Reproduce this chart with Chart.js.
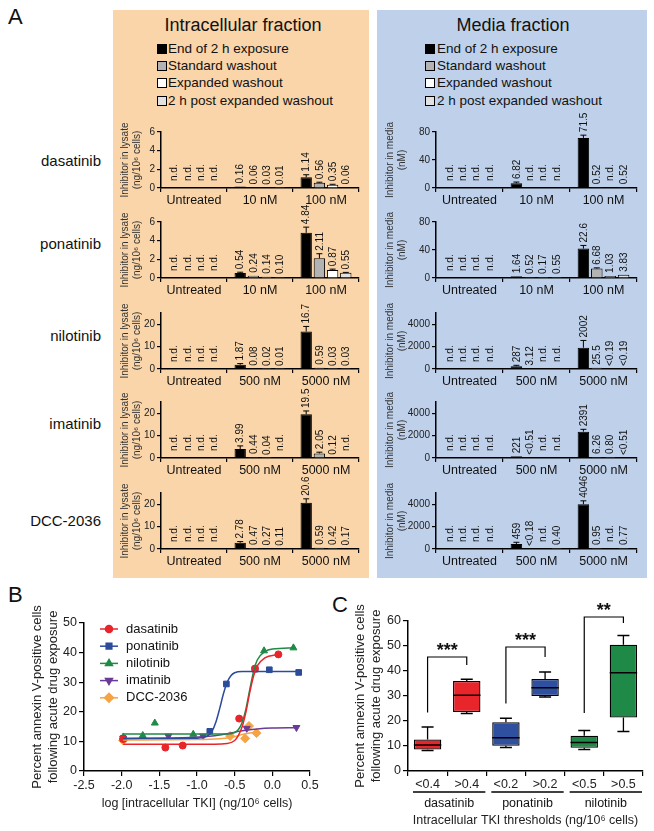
<!DOCTYPE html>
<html>
<head>
<meta charset="utf-8">
<script src="https://cdn.jsdelivr.net/npm/chart.js@4/dist/chart.umd.min.js"></script>
<style>
  body { margin: 0; background: #fff; font-family: "Liberation Sans", Arial, sans-serif; }
  #page { position: relative; width: 654px; height: 831px; overflow: hidden; }
  .txt { position: absolute; white-space: nowrap; color: #111; }
  canvas { position: absolute; }
  .panel { position: absolute; }
  .sq { position: absolute; width: 8px; height: 8px; border: 1.5px solid #000; }
</style>
</head>
<body>
<div id="page">
  <div class="panel" style="left:113px;top:10px;width:256px;height:568px;background:#f9d5a9"></div>
  <div class="panel" style="left:377px;top:10px;width:270px;height:568px;background:#bfd1ea"></div>
</div>
<script>
// ===== DATA =====
const drugNames = ["dasatinib", "ponatinib", "nilotinib", "imatinib", "DCC-2036"];
const seriesNames = ["End of 2 h exposure", "Standard washout", "Expanded washout", "2 h post expanded washout"];
const seriesColors = ["#000000", "#b3b3b3", "#ffffff", "#e2e2e2"];
const dosesLow = ["Untreated", "10 nM", "100 nM"];
const dosesHigh = ["Untreated", "500 nM", "5000 nM"];

// intracellular (ng/10^6 cells): rows = series, cols = dose
const lysateDasatinib = [[0, 0.16, 1.14], [0, 0.06, 0.56], [0, 0.03, 0.35], [0, 0.01, 0.06]];
const lysateDasatinibText = [["n.d.", "0.16", "1.14"], ["n.d.", "0.06", "0.56"], ["n.d.", "0.03", "0.35"], ["n.d.", "0.01", "0.06"]];
const lysateDasatinibErr = [[null, null, 1.42], [null, null, 0.62], [null, null, 0.4], [null, null, null]];

const lysatePonatinib = [[0, 0.54, 4.84], [0, 0.24, 2.11], [0, 0.14, 0.87], [0, 0.10, 0.55]];
const lysatePonatinibText = [["n.d.", "0.54", "4.84"], ["n.d.", "0.24", "2.11"], ["n.d.", "0.14", "0.87"], ["n.d.", "0.10", "0.55"]];
const lysatePonatinibErr = [[null, 0.62, 5.45], [null, null, 2.6], [null, null, 0.95], [null, null, 0.6]];

const lysateNilotinib = [[0, 1.87, 16.7], [0, 0.08, 0.59], [0, 0.02, 0.03], [0, 0.01, 0.03]];
const lysateNilotinibText = [["n.d.", "1.87", "16.7"], ["n.d.", "0.08", "0.59"], ["n.d.", "0.02", "0.03"], ["n.d.", "0.01", "0.03"]];
const lysateNilotinibErr = [[null, 2.4, 19.0], [null, null, null], [null, null, null], [null, null, null]];

const lysateImatinib = [[0, 3.99, 19.5], [0, 0.44, 2.05], [0, 0.04, 0.12], [0, 0, 0]];
const lysateImatinibText = [["n.d.", "3.99", "19.5"], ["n.d.", "0.44", "2.05"], ["n.d.", "0.04", "0.12"], ["n.d.", "n.d.", "n.d."]];
const lysateImatinibErr = [[null, 5.4, 21.0], [null, null, 2.6], [null, null, null], [null, null, null]];

const lysateDcc = [[0, 2.78, 20.6], [0, 0.47, 0.59], [0, 0.27, 0.42], [0, 0.11, 0.17]];
const lysateDccText = [["n.d.", "2.78", "20.6"], ["n.d.", "0.47", "0.59"], ["n.d.", "0.27", "0.42"], ["n.d.", "0.11", "0.17"]];
const lysateDccErr = [[null, 3.3, 22.4], [null, null, null], [null, null, null], [null, null, null]];

// media (nM)
const mediaDasatinib = [[0, 6.82, 71.5], [0, 0, 1.2], [0, 0, 0], [0, 0, 1.2]];
const mediaDasatinibText = [["n.d.", "6.82", "71.5"], ["n.d.", "n.d.", "0.52"], ["n.d.", "n.d.", "n.d."], ["n.d.", "n.d.", "0.52"]];
const mediaDasatinibErr = [[null, 8.5, 75.5], [null, null, null], [null, null, null], [null, null, null]];

const mediaPonatinib = [[0, 2.5, 42], [0, 1.5, 13.5], [0, 1.5, 3.0], [0, 1.5, 4.5]];
const mediaPonatinibText = [["n.d.", "1.64", "22.6"], ["n.d.", "0.52", "6.68"], ["n.d.", "0.17", "1.03"], ["n.d.", "0.55", "3.83"]];
const mediaPonatinibErr = [[null, null, 46.5], [null, null, 14.5], [null, null, null], [null, null, null]];

const mediaNilotinib = [[0, 250, 1900], [0, 40, 110], [0, 0, 0], [0, 0, 0]];
const mediaNilotinibText = [["n.d.", "287", "2002"], ["n.d.", "3.12", "25.5"], ["n.d.", "n.d.", "<0.19"], ["n.d.", "n.d.", "<0.19"]];
const mediaNilotinibErr = [[null, 330, 2550], [null, null, null], [null, null, null], [null, null, null]];

const mediaImatinib = [[0, 150, 2350], [0, 30, 80], [0, 0, 80], [0, 0, 0]];
const mediaImatinibText = [["n.d.", "221", "2391"], ["n.d.", "<0.51", "6.26"], ["n.d.", "n.d.", "0.80"], ["n.d.", "n.d.", "<0.51"]];
const mediaImatinibErr = [[null, null, 2560], [null, null, null], [null, null, null], [null, null, null]];

const mediaDcc = [[0, 450, 4000], [0, 0, 80], [0, 0, 0], [0, 80, 80]];
const mediaDccText = [["n.d.", "459", "4046"], ["n.d.", "<0.18", "0.95"], ["n.d.", "n.d.", "n.d."], ["n.d.", "0.40", "0.77"]];
const mediaDccErr = [[null, 600, 4300], [null, null, null], [null, null, null], [null, null, null]];

// panel B: points
const dasX = [-1.98, -1.42, -1.19, -0.44, -0.23, 0.08];
const dasY = [10.8, 7.9, 8.6, 17.7, 34.6, 39.4];
const ponX = [-1.98, -0.83, -0.61, -0.23, -0.04, 0.35];
const ponY = [11.0, 13.4, 29.4, 34.4, 34.2, 33.3];
const nilX = [-1.98, -1.72, -1.56, -1.05, -0.11, 0.28];
const nilY = [11.5, 12.0, 16.2, 12.4, 40.6, 41.6];
const imaX = [-1.98, -1.38, -0.92, -0.34, 0.32];
const imaY = [11.0, 11.8, 11.8, 14.4, 14.7];
const dccX = [-1.98, -0.56, -0.36, -0.31, -0.21];
const dccY = [10.3, 11.8, 11.0, 15.2, 12.8];
// panel B: fitted curves
const dasCurveX = [-1.98, -1.0, -0.6, -0.5, -0.45, -0.4, -0.35, -0.3, -0.25, -0.2, -0.1, 0.08];
const dasCurveY = [9.0, 9.0, 9.3, 10.3, 12.0, 15.0, 20.0, 26.5, 32.0, 35.5, 38.2, 39.4];
const ponCurveX = [-1.98, -1.0, -0.85, -0.8, -0.75, -0.7, -0.65, -0.6, -0.55, -0.5, -0.4, 0.35];
const ponCurveY = [11.0, 11.1, 12.0, 13.5, 16.5, 21.0, 26.0, 30.0, 32.2, 33.2, 33.6, 33.6];
const nilCurveX = [-1.98, -0.6, -0.5, -0.45, -0.4, -0.35, -0.3, -0.25, -0.2, -0.1, 0.0, 0.3];
const nilCurveY = [12.5, 12.5, 13.0, 14.0, 16.5, 21.0, 27.5, 33.5, 37.5, 40.3, 41.2, 41.6];
const imaCurveX = [-1.98, -1.2, -0.8, -0.6, -0.4, -0.2, 0.0, 0.32];
const imaCurveY = [11.0, 11.2, 11.8, 12.6, 13.6, 14.2, 14.5, 14.6];
const dccCurveX = [-1.98, -1.0, -0.7, -0.5, -0.4, -0.3, -0.2];
const dccCurveY = [10.5, 10.6, 10.9, 11.6, 12.3, 12.8, 13.1];

// panel C: box plots
const boxCats = ["<0.4", ">0.4", "<0.2", ">0.2", "<0.5", ">0.5"];
const boxGroups = ["dasatinib", "ponatinib", "nilotinib"];
const boxMin = [8.2, 23.0, 9.4, 29.6, 8.6, 15.8];
const boxQ1 = [8.6, 23.6, 10.1, 30.0, 9.3, 21.4];
const boxMed = [10.4, 30.3, 13.3, 33.3, 11.4, 39.3];
const boxQ3 = [12.6, 36.0, 19.5, 36.8, 14.1, 50.5];
const boxMax = [17.6, 36.7, 21.1, 39.6, 16.2, 54.2];
const sigLabels = ["***", "***", "**"];
const sigTop = [45.6, 49.6, 61.6];
const sigLeftFoot = [23.4, 27.0, 23.2];
const sigRightFoot = [42.4, 45.6, 59.2];

// ===== HELPERS =====
Chart.defaults.font.family = '"Liberation Sans", Arial, sans-serif';
Chart.defaults.color = "#111";
const page = document.getElementById("page");

function addText(txt, x, y, size, align) {
  const d = document.createElement("div");
  d.className = "txt";
  d.textContent = txt;
  d.style.left = x + "px";
  d.style.top = y + "px";
  d.style.fontSize = size + "px";
  d.style.lineHeight = "1";
  const tx = align === "right" ? "-100%" : align === "left" ? "0" : "-50%";
  d.style.transform = "translate(" + tx + ",-50%)";
  page.appendChild(d);
}

function addCanvas(left, top, w, h) {
  const cv = document.createElement("canvas");
  cv.width = w; cv.height = h;
  cv.style.left = left + "px"; cv.style.top = top + "px";
  cv.style.width = w + "px"; cv.style.height = h + "px";
  page.appendChild(cv);
  return cv;
}

// value labels + error bars on the small bar charts
function barLabels(texts, errs) {
  return {
    id: "barLabels",
    afterDatasetsDraw(chart) {
      const ctx = chart.ctx, ys = chart.scales.y;
      const zero = ys.getPixelForValue(0);
      ctx.save();
      ctx.font = '10px "Liberation Sans", Arial, sans-serif';
      ctx.fillStyle = "#111";
      ctx.textAlign = "left";
      ctx.textBaseline = "middle";
      chart.data.datasets.forEach((ds, i) => {
        chart.getDatasetMeta(i).data.forEach((bar, j) => {
          let top = bar.y;
          const e = errs[i][j];
          if (e != null) {
            const ey = ys.getPixelForValue(e);
            ctx.strokeStyle = "#000";
            ctx.lineWidth = 1;
            ctx.beginPath();
            ctx.moveTo(bar.x, bar.y); ctx.lineTo(bar.x, ey);
            ctx.moveTo(bar.x - 3, ey); ctx.lineTo(bar.x + 3, ey);
            ctx.stroke();
            top = ey;
          }
          const t = texts[i][j];
          const base = t === "n.d." ? zero - 7 : top - 3;
          ctx.save();
          ctx.translate(bar.x, base);
          ctx.rotate(-Math.PI / 2);
          ctx.fillText(t, 0, 0.5);
          ctx.restore();
        });
      });
      ctx.restore();
    }
  };
}

function barChart(left, width, yWidth, titlePad, zeroY, cats, vals, texts, errs, yMax, yStep, yTitle) {
  const cv = addCanvas(left, zeroY - 84, width, 106);
  new Chart(cv, {
    type: "bar",
    data: {
      labels: cats,
      datasets: seriesNames.map((n, i) => ({
        label: n,
        data: vals[i],
        backgroundColor: seriesColors[i],
        borderColor: "#000",
        borderWidth: 1,
        categoryPercentage: 0.8,
        barPercentage: 0.86
      }))
    },
    options: {
      responsive: false,
      animation: false,
      events: [],
      layout: { padding: { top: 28, right: 10, left: 0, bottom: 0 } },
      plugins: { legend: { display: false }, tooltip: { enabled: false } },
      scales: {
        x: {
          grid: { offset: true, drawOnChartArea: false, tickLength: 4, color: "#000", lineWidth: 1.2 },
          border: { color: "#000", width: 1.5 },
          ticks: { color: "#111", font: { size: 12.5 }, padding: 1, maxRotation: 0 },
          afterFit: s => { s.height = 22; }
        },
        y: {
          min: 0, max: yMax,
          ticks: { stepSize: yStep, color: "#222", font: { size: 10 }, padding: 2, callback: v => String(v) },
          grid: { drawOnChartArea: false, tickLength: 4, color: "#000", lineWidth: 1.2 },
          border: { color: "#000", width: 1.5 },
          title: { display: true, text: yTitle, font: { size: 10, lineHeight: 1.2 }, color: "#333", padding: { top: titlePad, bottom: 0 } },
          afterFit: s => { s.width = yWidth; }
        }
      }
    },
    plugins: [barLabels(texts, errs)]
  });
}

// ===== PANEL A =====
addText("A", 8, 17, 22, "left");
addText("Intracellular fraction", 243, 25, 18, "center");
addText("Media fraction", 513, 25, 18, "center");
const legendY = [49, 66, 83, 101];
seriesNames.forEach((n, i) => {
  [[157, 168], [425, 437]].forEach(([sx, tx]) => {
    const s = document.createElement("div");
    s.className = "sq";
    s.style.left = sx + "px"; s.style.top = (legendY[i] - 5) + "px";
    s.style.background = seriesColors[i];
    page.appendChild(s);
    addText(n, tx, legendY[i], 13.5, "left");
  });
});

const rowZero = [188, 278, 369, 458, 549];
const rowLabelY = [160, 243, 335, 423, 520];
drugNames.forEach((d, i) => addText(d, 101, rowLabelY[i], 15, "right"));

const lysTitle = ["Inhibitor in lysate", "(ng/10\u2076 cells)"];
const medTitle = ["Inhibitor in media", "(nM)"];
barChart(113, 256, 48, 6, rowZero[0], dosesLow, lysateDasatinib, lysateDasatinibText, lysateDasatinibErr, 6, 1, lysTitle);
barChart(113, 256, 48, 6, rowZero[1], dosesLow, lysatePonatinib, lysatePonatinibText, lysatePonatinibErr, 6, 1, lysTitle);
barChart(113, 256, 48, 6, rowZero[2], dosesHigh, lysateNilotinib, lysateNilotinibText, lysateNilotinibErr, 25, 5, lysTitle);
barChart(113, 256, 48, 6, rowZero[3], dosesHigh, lysateImatinib, lysateImatinibText, lysateImatinibErr, 25, 5, lysTitle);
barChart(113, 256, 48, 6, rowZero[4], dosesHigh, lysateDcc, lysateDccText, lysateDccErr, 25, 5, lysTitle);

barChart(377, 270, 59, 7, rowZero[0], dosesLow, mediaDasatinib, mediaDasatinibText, mediaDasatinibErr, 80, 20, medTitle);
barChart(377, 270, 59, 7, rowZero[1], dosesLow, mediaPonatinib, mediaPonatinibText, mediaPonatinibErr, 80, 20, medTitle);
barChart(377, 270, 59, 7, rowZero[2], dosesHigh, mediaNilotinib, mediaNilotinibText, mediaNilotinibErr, 5000, 1000, medTitle);
barChart(377, 270, 59, 7, rowZero[3], dosesHigh, mediaImatinib, mediaImatinibText, mediaImatinibErr, 5000, 1000, medTitle);
barChart(377, 270, 59, 7, rowZero[4], dosesHigh, mediaDcc, mediaDccText, mediaDccErr, 5000, 1000, medTitle);

// ===== PANEL B =====
addText("B", 8, 595, 22, "left");
const yTitleB = ["Percent annexin V-positive cells", "following acute drug exposure"];
const pts = (xs, ys) => xs.map((x, i) => ({ x: x, y: ys[i] }));
const bSeries = [
  { name: "dasatinib", color: "#e8252b", style: "circle", rot: 0, r: 3.5, p: pts(dasX, dasY), c: pts(dasCurveX, dasCurveY) },
  { name: "ponatinib", color: "#2c4b9b", style: "rect", rot: 0, r: 4, p: pts(ponX, ponY), c: pts(ponCurveX, ponCurveY) },
  { name: "nilotinib", color: "#1f8a47", style: "triangle", rot: 0, r: 4, p: pts(nilX, nilY), c: pts(nilCurveX, nilCurveY) },
  { name: "imatinib", color: "#6a3b97", style: "triangle", rot: 180, r: 4, p: pts(imaX, imaY), c: pts(imaCurveX, imaCurveY) },
  { name: "DCC-2036", color: "#f6a443", style: "rectRot", rot: 0, r: 4.5, p: pts(dccX, dccY), c: pts(dccCurveX, dccCurveY) }
];
const bDatasets = [];
bSeries.forEach(s => {
  bDatasets.push({ type: "line", data: s.c, borderColor: s.color, borderWidth: 1.5, pointRadius: 0, cubicInterpolationMode: "monotone", fill: false });
});
bSeries.forEach(s => {
  bDatasets.push({ type: "scatter", label: s.name, data: s.p, backgroundColor: s.color, borderColor: s.color, pointStyle: s.style, rotation: s.rot, pointRadius: s.r, borderWidth: 1 });
});

const legendB = {
  id: "legendB",
  afterDraw(chart) {
    const { ctx, chartArea } = chart;
    ctx.save();
    ctx.font = '13px "Liberation Sans", Arial, sans-serif';
    ctx.textBaseline = "middle";
    bSeries.forEach((s, i) => {
      const y = chartArea.top + 6 + i * 17.2;
      const x0 = chartArea.left + 16;
      ctx.strokeStyle = s.color; ctx.lineWidth = 1.5;
      ctx.beginPath(); ctx.moveTo(x0, y); ctx.lineTo(x0 + 18, y); ctx.stroke();
      ctx.fillStyle = s.color;
      Chart.helpers.drawPoint(ctx, { pointStyle: s.style, radius: s.r, rotation: s.rot, borderWidth: 1 }, x0 + 9, y);
      ctx.fillStyle = "#111";
      ctx.fillText(s.name, x0 + 26, y);
    });
    ctx.restore();
  }
};

new Chart(addCanvas(0, 590, 325, 241), {
  type: "scatter",
  data: { datasets: bDatasets },
  options: {
    responsive: false, animation: false, events: [],
    layout: { padding: { top: 33, right: 15, left: 0, bottom: 0 } },
    plugins: { legend: { display: false }, tooltip: { enabled: false } },
    scales: {
      x: {
        type: "linear", min: -2.5, max: 0.5,
        ticks: { stepSize: 0.5, color: "#222", font: { size: 12.5 }, padding: 2, callback: v => v.toFixed(1) },
        grid: { drawOnChartArea: false, tickLength: 5, color: "#000", lineWidth: 1.2 },
        border: { color: "#000", width: 1.5 },
        title: { display: true, text: "log [intracellular TKI] (ng/10\u2076 cells)", font: { size: 12.5 }, color: "#222", padding: { top: 0, bottom: 20 } },
        afterFit: s => { s.height = 60; }
      },
      y: {
        min: 0, max: 50,
        ticks: { stepSize: 10, color: "#222", font: { size: 12.5 }, padding: 2 },
        grid: { drawOnChartArea: false, tickLength: 5, color: "#000", lineWidth: 1.2 },
        border: { color: "#000", width: 1.5 },
        title: { display: true, text: yTitleB, font: { size: 13, lineHeight: 1.2 }, color: "#222", padding: { top: 30, bottom: 0 } },
        afterFit: s => { s.width = 84; }
      }
    }
  },
  plugins: [legendB]
});

// ===== PANEL C =====
addText("C", 332, 605, 22, "left");
const boxColors = ["#e8252b", "#e8252b", "#2f4f9f", "#2f4f9f", "#1f8a47", "#1f8a47"];

const boxExtras = {
  id: "boxExtras",
  afterDatasetsDraw(chart) {
    const ctx = chart.ctx, ys = chart.scales.y, xs = chart.scales.x, area = chart.chartArea;
    const bars = chart.getDatasetMeta(0).data;
    ctx.save();
    ctx.strokeStyle = "#000";
    ctx.lineWidth = 1.3;
    bars.forEach((b, i) => {
      const half = b.width / 2;
      const yMed = ys.getPixelForValue(boxMed[i]);
      const yQ1 = ys.getPixelForValue(boxQ1[i]);
      const yQ3 = ys.getPixelForValue(boxQ3[i]);
      const yLo = ys.getPixelForValue(boxMin[i]);
      const yHi = ys.getPixelForValue(boxMax[i]);
      ctx.beginPath();
      ctx.moveTo(b.x - half, yMed); ctx.lineTo(b.x + half, yMed);
      ctx.moveTo(b.x, yQ3); ctx.lineTo(b.x, yHi);
      ctx.moveTo(b.x - 6, yHi); ctx.lineTo(b.x + 6, yHi);
      ctx.moveTo(b.x, yQ1); ctx.lineTo(b.x, yLo);
      ctx.moveTo(b.x - 6, yLo); ctx.lineTo(b.x + 6, yLo);
      ctx.stroke();
    });
    // significance brackets
    ctx.lineWidth = 1.2;
    ctx.fillStyle = "#111";
    ctx.textAlign = "center";
    ctx.textBaseline = "middle";
    ctx.font = 'bold 18px "Liberation Sans", Arial, sans-serif';
    sigLabels.forEach((lab, g) => {
      const xl = xs.getPixelForValue(g * 2), xr = xs.getPixelForValue(g * 2 + 1);
      const yt = ys.getPixelForValue(sigTop[g]);
      ctx.beginPath();
      ctx.moveTo(xl, ys.getPixelForValue(sigLeftFoot[g]));
      ctx.lineTo(xl, yt); ctx.lineTo(xr, yt);
      ctx.lineTo(xr, ys.getPixelForValue(sigRightFoot[g]));
      ctx.stroke();
      ctx.fillText(lab, (xl + xr) / 2, yt - 6);
    });
    // group underlines + names
    ctx.font = '12.5px "Liberation Sans", Arial, sans-serif';
    ctx.lineWidth = 1.5;
    const step = xs.getPixelForValue(1) - xs.getPixelForValue(0);
    boxGroups.forEach((name, g) => {
      const a = xs.getPixelForValue(g * 2) - step / 2 + 5;
      const b = xs.getPixelForValue(g * 2 + 1) + step / 2 - 1;
      const y = area.bottom + 21;
      ctx.beginPath(); ctx.moveTo(a, y); ctx.lineTo(b, y); ctx.stroke();
      ctx.fillText(name, (a + b) / 2, area.bottom + 33);
    });
    ctx.restore();
  }
};

new Chart(addCanvas(330, 590, 324, 241), {
  type: "bar",
  data: {
    labels: boxCats,
    datasets: [{
      data: boxQ1.map((q, i) => [q, boxQ3[i]]),
      backgroundColor: boxColors,
      borderColor: "#000",
      borderWidth: 1.3,
      borderSkipped: false,
      barPercentage: 0.7,
      categoryPercentage: 1
    }]
  },
  options: {
    responsive: false, animation: false, events: [],
    layout: { padding: { top: 31, right: 11, left: 0, bottom: 0 } },
    plugins: { legend: { display: false }, tooltip: { enabled: false } },
    scales: {
      x: {
        grid: { offset: true, drawOnChartArea: false, tickLength: 5, color: "#000", lineWidth: 1.2 },
        border: { color: "#000", width: 1.5 },
        ticks: { color: "#222", font: { size: 12.5 }, padding: 1, maxRotation: 0 },
        title: { display: true, text: "Intracellular TKI thresholds (ng/10\u2076 cells)", font: { size: 12.5 }, color: "#222", padding: { top: 0, bottom: 3 } },
        afterFit: s => { s.height = 60; }
      },
      y: {
        min: 0, max: 60,
        ticks: { stepSize: 10, color: "#222", font: { size: 12.5 }, padding: 2 },
        grid: { drawOnChartArea: false, tickLength: 5, color: "#000", lineWidth: 1.2 },
        border: { color: "#000", width: 1.5 },
        title: { display: true, text: yTitleB, font: { size: 13, lineHeight: 1.25 }, color: "#222", padding: { top: 22, bottom: 0 } },
        afterFit: s => { s.width = 78; }
      }
    }
  },
  plugins: [boxExtras]
});
</script>
</body>
</html>
